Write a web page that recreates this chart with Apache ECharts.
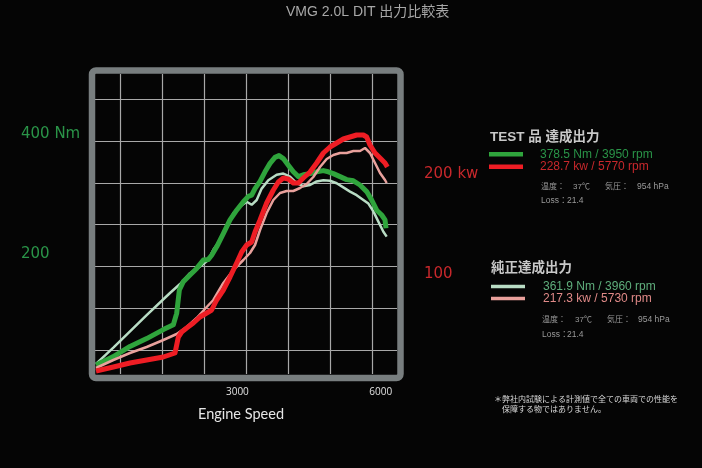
<!DOCTYPE html>
<html>
<head>
<meta charset="utf-8">
<script src="https://cdn.jsdelivr.net/npm/echarts@6/dist/echarts.min.js"></script>
<style>
html,body{margin:0;padding:0;background:#050505;}
#chart{width:702px;height:468px;}
</style>
</head>
<body>
<div id="chart"></div>
<script>
// ---- data (rpm, value) ----
const testTorque = [[42,15],[405,29],[753,46],[1102,59],[1451,74],[1660,82],[1730,101],[1786,140],[1869,154],[2009,165],[2148,176],[2288,190],[2392,191],[2462,198],[2567,212],[2706,234],[2846,257],[2985,273],[3125,287],[3229,296],[3299,298],[3369,309],[3474,321],[3578,337],[3683,351],[3787,361],[3871,364],[3962,359],[4066,348],[4171,337],[4276,329],[4380,332],[4520,334],[4659,337],[4799,339],[4903,337],[5008,334],[5148,329],[5287,324],[5427,322],[5566,315],[5706,304],[5810,290],[5915,273],[6020,265],[6089,257],[6110,243]];
const stockTorque = [[42,17],[405,44],[1102,98],[1590,135],[1800,150],[2009,168],[2218,179],[2392,190],[2497,207],[2637,223],[2776,246],[2916,268],[3055,279],[3195,287],[3299,282],[3404,290],[3508,309],[3648,323],[3822,332],[3962,334],[4101,329],[4241,318],[4380,313],[4520,315],[4659,321],[4799,323],[4938,322],[5078,318],[5217,311],[5357,304],[5496,298],[5636,290],[5741,284],[5845,271],[5950,254],[6055,237],[6124,229]];
const testPower = [[42,3],[405,7],[753,11],[1102,14],[1451,17],[1695,21],[1765,37],[1834,42],[1939,46],[2079,51],[2218,57],[2358,61],[2462,64],[2567,74],[2706,84],[2846,97],[2985,111],[3090,122],[3195,129],[3299,132],[3369,142],[3474,154],[3613,171],[3753,184],[3857,192],[3962,196],[4066,195],[4171,191],[4276,191],[4380,196],[4520,202],[4659,211],[4799,221],[4938,227],[5078,231],[5217,235],[5357,237],[5496,239],[5636,239],[5706,237],[5775,229],[5880,221],[5985,216],[6089,211],[6138,207]];
const stockPower = [[42,6],[405,14],[753,21],[1102,27],[1451,34],[1730,40],[1939,47],[2148,56],[2358,67],[2497,74],[2706,91],[2916,104],[3125,114],[3264,121],[3369,129],[3474,144],[3613,161],[3753,174],[3892,181],[4031,183],[4171,183],[4311,186],[4450,190],[4589,197],[4729,207],[4869,215],[5008,219],[5148,221],[5287,221],[5427,223],[5566,223],[5671,226],[5775,221],[5880,211],[5985,201],[6089,194],[6124,191]];

const xTickLabels = [3000, 6000];
const torqueTickLabels = {200: '200', 400: '400 Nm'};
const powerTickLabels = {100: '100', 200: '200 kw'};

const testNames = ['378.5 Nm / 3950 rpm', '228.7 kw / 5770 rpm'];
const stockNames = ['361.9 Nm / 3960 rpm', '217.3 kw / 5730 rpm'];

const C = {
  green: '#2fa43c', red: '#ee1d24', mint: '#b8dcc4', pink: '#e9a19c',
  greenTxt: '#2a9448', redTxt: '#c8282c', mintTxt: '#5fae7c', pinkTxt: '#e08a88',
  grid: '#a8a8a8', frame: '#787e7f', gray: '#9a9a9a'
};
const JP = '"Liberation Sans", "Noto Sans CJK JP", sans-serif';

const chart = echarts.init(document.getElementById('chart'));

function txt(x, y, text, size, color, weight) {
  return {
    type: 'text', x: x, y: y, z: 50,
    style: { text: text, fill: color, font: (weight || 'normal') + ' ' + size + 'px ' + JP, verticalAlign: 'middle', align: 'left' }
  };
}

const option = {
  backgroundColor: '#050505',
  animation: false,
  title: {
    text: 'VMG 2.0L DIT 出力比較表', left: 286, top: 5, padding: 0,
    textStyle: { color: '#a8a8a8', fontSize: 14, fontWeight: 'normal', fontFamily: JP }
  },
  grid: [
    { left: 94, top: 74, width: 303, height: 300 },
    { left: 78.7, top: 74, width: 336, height: 300 },
    { left: 94, top: 57.1, width: 303, height: 335.2 }
  ],
  xAxis: [
    { type: 'value', gridIndex: 0, min: 0, max: 6340, interval: 3000,
      axisLine: { show: false }, axisTick: { show: false }, splitLine: { show: false },
      axisLabel: { color: '#e0e0e0', fontSize: 10, fontFamily: '"Open Sans", sans-serif', margin: 13, showMaxLabel: false,
        formatter: v => xTickLabels.indexOf(v) >= 0 ? String(v) : '' },
      name: 'Engine Speed', nameLocation: 'middle', nameGap: 33,
      nameTextStyle: { color: '#e6e6e6', fontSize: 14.5, fontFamily: 'Lato, sans-serif', padding: [0, 9, 0, 0] } },
    { type: 'value', gridIndex: 1, min: 0, max: 8, interval: 1,
      axisLine: { show: false }, axisTick: { show: false }, axisLabel: { show: false },
      splitLine: { show: true, showMinLine: false, showMaxLine: false, lineStyle: { color: C.grid, width: 1.2 } } },
    { type: 'value', gridIndex: 2, min: 0, max: 1, show: false }
  ],
  yAxis: [
    { type: 'value', gridIndex: 0, position: 'left', min: 0, max: 500, interval: 200,
      axisLine: { show: false }, axisTick: { show: false }, splitLine: { show: false },
      axisLabel: { color: C.greenTxt, fontSize: 15, fontFamily: '"DejaVu Sans", sans-serif', align: 'left', margin: 73, showMaxLabel: false,
        formatter: v => torqueTickLabels[v] || '' } },
    { type: 'value', gridIndex: 0, position: 'right', min: 0, max: 300, interval: 100,
      axisLine: { show: false }, axisTick: { show: false }, splitLine: { show: false },
      axisLabel: { color: C.redTxt, fontSize: 15, fontFamily: '"DejaVu Sans", sans-serif', align: 'left', margin: 27, showMaxLabel: false,
        formatter: v => powerTickLabels[v] || '' } },
    { type: 'value', gridIndex: 1, min: 0, max: 1, show: false },
    { type: 'value', gridIndex: 2, min: 0, max: 8, interval: 1,
      axisLine: { show: false }, axisTick: { show: false }, axisLabel: { show: false },
      splitLine: { show: true, showMinLine: false, showMaxLine: false, lineStyle: { color: C.grid, width: 1.2 } } }
  ],
  legend: [
    { orient: 'vertical', left: 489, top: 148.3, icon: 'rect', itemWidth: 34, itemHeight: 4.5, itemGap: 0.4,
      selectedMode: false, padding: 0,
      textStyle: { fontSize: 12, lineHeight: 12, fontFamily: JP, padding: [0, 0, 0, 12] },
      data: [ { name: testNames[0], textStyle: { color: C.greenTxt } }, { name: testNames[1], textStyle: { color: C.redTxt } } ] },
    { orient: 'vertical', left: 491, top: 280.6, icon: 'rect', itemWidth: 34, itemHeight: 3.5, itemGap: 0,
      selectedMode: false, padding: 0,
      textStyle: { fontSize: 12, lineHeight: 10.7, fontFamily: JP, padding: [0, 0, 0, 13] },
      data: [ { name: stockNames[0], textStyle: { color: C.mintTxt } }, { name: stockNames[1], textStyle: { color: C.pinkTxt } } ] }
  ],
  series: [
    { name: stockNames[0], type: 'line', xAxisIndex: 0, yAxisIndex: 0, data: stockTorque, showSymbol: false,
      color: C.mint, lineStyle: { width: 2.5, color: C.mint }, z: 3 },
    { name: testNames[0], type: 'line', xAxisIndex: 0, yAxisIndex: 0, data: testTorque, showSymbol: false,
      color: C.green, lineStyle: { width: 5, color: C.green, join: 'round' }, z: 4 },
    { name: stockNames[1], type: 'line', xAxisIndex: 0, yAxisIndex: 1, data: stockPower, showSymbol: false,
      color: C.pink, lineStyle: { width: 2.5, color: C.pink }, z: 5 },
    { name: testNames[1], type: 'line', xAxisIndex: 0, yAxisIndex: 1, data: testPower, showSymbol: false,
      color: C.red, lineStyle: { width: 5, color: C.red, join: 'round' }, z: 6 }
  ],
  graphic: [
    { type: 'rect', z: 40, shape: { x: 92, y: 70.5, width: 308.5, height: 307.5, r: 4 },
      style: { fill: null, stroke: C.frame, lineWidth: 6.5 } },
    txt(490, 137.5, 'TEST 品 達成出力', 13.5, '#c8c8c8', 'bold'),
    txt(541, 186.7, '温度：', 8, C.gray), txt(573, 186.7, '37℃', 8, C.gray),
    txt(605, 186.7, '気圧：', 8, C.gray), txt(637, 186.7, '954 hPa', 8.5, C.gray),
    txt(541, 201, 'Loss：', 8.5, C.gray), txt(567, 201, '21.4', 8.5, C.gray),
    txt(491, 268.3, '純正達成出力', 13.5, '#c8c8c8', 'bold'),
    txt(542, 320, '温度：', 8, C.gray), txt(575, 320, '37℃', 8, C.gray),
    txt(607, 320, '気圧：', 8, C.gray), txt(638, 320, '954 hPa', 8.5, C.gray),
    txt(542, 335, 'Loss：', 8.5, C.gray), txt(567, 335, '21.4', 8.5, C.gray),
    txt(494, 400, '＊弊社内試験による計測値で全ての車両での性能を', 8, '#d8d8d8'),
    txt(494, 410, '　保障する物ではありません。', 8, '#d8d8d8')
  ]
};
chart.setOption(option);
</script>
</body>
</html>
